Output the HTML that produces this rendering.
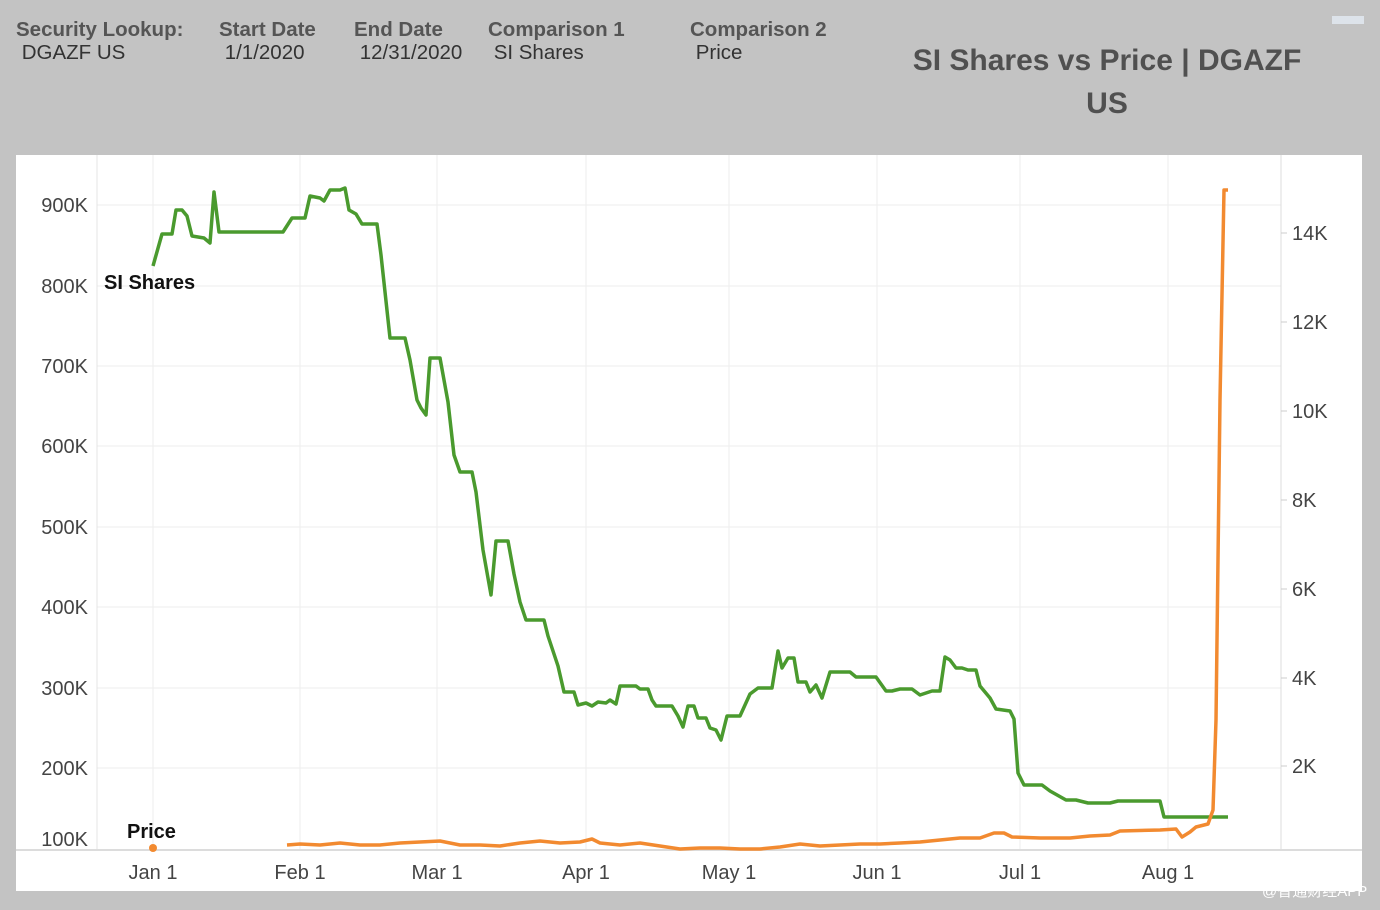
<!DOCTYPE html>
<html><head><meta charset="utf-8"><style>
body{margin:0;width:1380px;height:910px;background:#c3c3c3;font-family:"Liberation Sans",Arial,sans-serif;overflow:hidden;position:relative}
.h{position:absolute;font-size:20.5px;color:#333;line-height:23px}
.h b{color:#555}
.t{position:absolute;left:890px;width:434px;top:39px;text-align:center;font-size:30px;font-weight:bold;color:#505050;line-height:43px}
</style></head><body>
<div class="h" style="left:16px;top:18px"><b>Security Lookup:</b><br>&nbsp;DGAZF US</div>
<div class="h" style="left:219px;top:18px"><b>Start Date</b><br>&nbsp;1/1/2020</div>
<div class="h" style="left:354px;top:18px"><b>End Date</b><br>&nbsp;12/31/2020</div>
<div class="h" style="left:488px;top:18px"><b>Comparison 1</b><br>&nbsp;SI Shares</div>
<div class="h" style="left:690px;top:18px"><b>Comparison 2</b><br>&nbsp;Price</div>
<div class="t">SI Shares vs Price | DGAZF<br>US</div>
<div style="position:absolute;left:1332px;top:16px;width:32px;height:8px;background:#dde3ea"></div>
<svg style="position:absolute;left:0;top:0" width="1380" height="910" font-family="Liberation Sans, Arial, sans-serif">
<rect x="16" y="155" width="1346" height="736" fill="#fff"/>
<g stroke="#eeeeee" stroke-width="1">
<line x1="153" y1="155" x2="153" y2="850"/><line x1="300" y1="155" x2="300" y2="850"/><line x1="437" y1="155" x2="437" y2="850"/><line x1="586" y1="155" x2="586" y2="850"/><line x1="729" y1="155" x2="729" y2="850"/><line x1="877" y1="155" x2="877" y2="850"/><line x1="1020" y1="155" x2="1020" y2="850"/><line x1="1168" y1="155" x2="1168" y2="850"/>
<line x1="97" y1="205" x2="1281" y2="205"/><line x1="97" y1="286" x2="1281" y2="286"/><line x1="97" y1="366" x2="1281" y2="366"/><line x1="97" y1="446" x2="1281" y2="446"/><line x1="97" y1="527" x2="1281" y2="527"/><line x1="97" y1="607" x2="1281" y2="607"/><line x1="97" y1="688" x2="1281" y2="688"/><line x1="97" y1="768" x2="1281" y2="768"/>
</g>
<line x1="97" y1="155" x2="97" y2="850" stroke="#e4e4e4"/>
<line x1="1281" y1="155" x2="1281" y2="850" stroke="#dcdcdc"/>
<line x1="16" y1="850" x2="1362" y2="850" stroke="#dcdcdc" stroke-width="2"/>
<g font-size="20" fill="#444" text-anchor="end">
<text x="88" y="212">900K</text><text x="88" y="293">800K</text><text x="88" y="373">700K</text><text x="88" y="453">600K</text><text x="88" y="534">500K</text><text x="88" y="614">400K</text><text x="88" y="695">300K</text><text x="88" y="775">200K</text><text x="88" y="846">100K</text>
</g>
<g font-size="20" fill="#444">
<text x="1292" y="240">14K</text><text x="1292" y="329">12K</text><text x="1292" y="418">10K</text><text x="1292" y="507">8K</text><text x="1292" y="596">6K</text><text x="1292" y="685">4K</text><text x="1292" y="773">2K</text>
</g>
<g stroke="#ccc"><line x1="1281" y1="233" x2="1287" y2="233"/><line x1="1281" y1="322" x2="1287" y2="322"/><line x1="1281" y1="411" x2="1287" y2="411"/><line x1="1281" y1="500" x2="1287" y2="500"/><line x1="1281" y1="589" x2="1287" y2="589"/><line x1="1281" y1="678" x2="1287" y2="678"/><line x1="1281" y1="766" x2="1287" y2="766"/></g>
<g font-size="20" fill="#444" text-anchor="middle">
<text x="153" y="879">Jan 1</text><text x="300" y="879">Feb 1</text><text x="437" y="879">Mar 1</text><text x="586" y="879">Apr 1</text><text x="729" y="879">May 1</text><text x="877" y="879">Jun 1</text><text x="1020" y="879">Jul 1</text><text x="1168" y="879">Aug 1</text>
</g>
<polyline fill="none" stroke="#4a9a2e" stroke-width="3.5" stroke-linejoin="round" points="153,266 162,234 172,234 176,210 182,210 187,216 192,236 204,238 210,243 214,192 219,232 283,232 292,218 305,218 310,196 320,198 324,201 330,190 340,190 345,188 349,210 356,214 362,224 377,224 381,255 390,338 405,338 410,360 417,400 421,408 426,415 430,358 440,358 448,402 454,455 460,472 472,472 476,492 483,550 491,595 496,541 508,541 514,574 520,602 526,620 544,620 548,636 558,666 564,692 574,692 578,705 586,703 592,706 598,702 606,703 610,700 616,704 620,686 636,686 640,689 648,689 652,700 656,706 672,706 678,716 683,727 688,706 694,706 698,718 706,718 710,728 716,730 721,740 727,716 740,716 750,694 758,688 772,688 778,651 782,668 788,658 794,658 798,682 806,682 810,692 816,685 822,698 830,672 850,672 856,677 876,677 886,691 892,691 900,689 912,689 920,695 926,693 932,691 940,691 945,657 950,660 956,668 962,668 968,670 976,670 980,686 990,698 996,709 1010,711 1014,719 1018,773 1024,785 1042,785 1050,791 1066,800 1076,800 1088,803 1110,803 1118,801 1160,801 1164,817 1228,817"/>
<polyline fill="none" stroke="#f28a30" stroke-width="3.5" stroke-linejoin="round" points="287,845 300,844 320,845 340,843 360,845 380,845 400,843 420,842 440,841 460,845 480,845 500,846 520,843 540,841 560,843 580,842 592,839 600,843 620,845 640,843 660,846 680,849 700,848 720,848 740,849 760,849 780,847 800,844 820,846 840,845 860,844 880,844 900,843 920,842 940,840 960,838 980,838 994,833 1004,833 1012,837 1040,838 1070,838 1090,836 1110,835 1120,831 1160,830 1176,829 1182,837 1190,832 1196,827 1200,826 1208,824 1213,810 1216,720 1220,400 1224,190 1228,190"/>
<circle cx="153" cy="848" r="4" fill="#f28a30"/>
<text x="104" y="289" font-size="20" font-weight="bold" fill="#111">SI Shares</text>
<text x="127" y="838" font-size="20" font-weight="bold" fill="#111">Price</text>
<text x="1262" y="896" font-size="15" fill="#fff" font-family="Liberation Sans, Noto Sans CJK SC, sans-serif">@智通财经APP</text>
</svg>
</body></html>
